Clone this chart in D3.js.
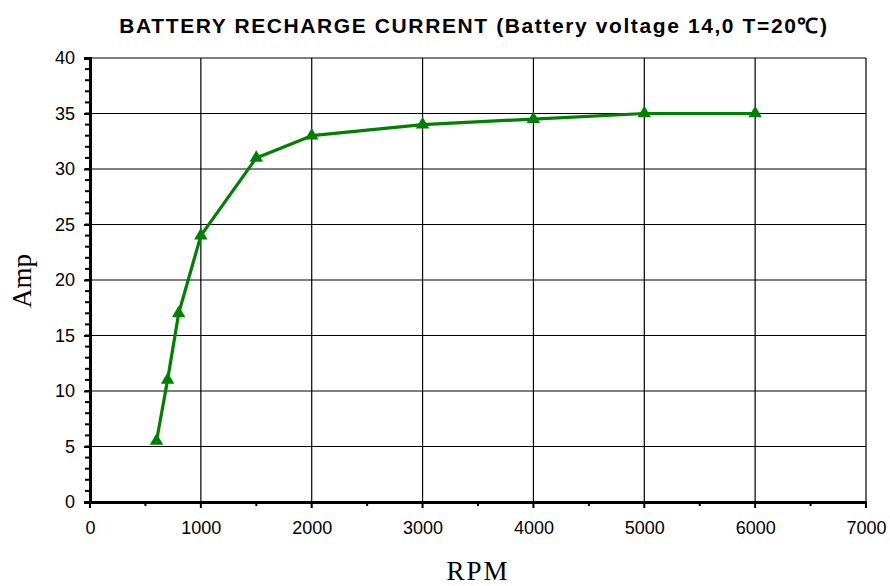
<!DOCTYPE html>
<html>
<head>
<meta charset="utf-8">
<script src="https://cdn.jsdelivr.net/npm/d3@7"></script>
<style>
    body { margin: 0; background: #fff; }
    svg text { font-family: "Liberation Sans", Arial, sans-serif; fill: #000; }
</style>
</head>
<body>
<div id="chart"></div>
<script>
const rpm = [600, 700, 800, 1000, 1500, 2000, 3000, 4000, 5000, 6000];
const amp = [5.5, 11, 17, 24, 31, 33, 34, 34.5, 35, 35];
const xTicks = [0, 1000, 2000, 3000, 4000, 5000, 6000, 7000];
const yTicks = [0, 5, 10, 15, 20, 25, 30, 35, 40];
const titleText = "BATTERY RECHARGE CURRENT (Battery voltage 14,0 T=20\u2103)";

const width = 890, height = 586;
const margin = { top: 58, right: 24, bottom: 84, left: 90 };

const svg = d3.select("#chart").append("svg")
    .attr("width", width)
    .attr("height", height);

const x = d3.scaleLinear().domain([0, 7000]).range([margin.left, width - margin.right]);
const y = d3.scaleLinear().domain([0, 40]).range([height - margin.bottom, margin.top]);

// gridlines
svg.append("g")
    .selectAll("line")
    .data(yTicks.filter(d => d > 0))
    .join("line")
    .attr("x1", x(0)).attr("x2", x(7000))
    .attr("y1", d => y(d)).attr("y2", d => y(d))
    .attr("stroke", "#000").attr("stroke-width", 1.2);

svg.append("g")
    .selectAll("line")
    .data(xTicks.filter(d => d > 0))
    .join("line")
    .attr("x1", d => x(d)).attr("x2", d => x(d))
    .attr("y1", y(0)).attr("y2", y(40))
    .attr("stroke", "#000").attr("stroke-width", 1.2);

// minor ticks
svg.append("g")
    .selectAll("line")
    .data(d3.range(0, 41))
    .join("line")
    .attr("x1", x(0) - 5).attr("x2", x(0))
    .attr("y1", d => y(d)).attr("y2", d => y(d))
    .attr("stroke", "#000").attr("stroke-width", 2);

svg.append("g")
    .selectAll("line")
    .data(d3.range(0, 7001, 500))
    .join("line")
    .attr("x1", d => x(d)).attr("x2", d => x(d))
    .attr("y1", y(0)).attr("y2", d => y(0) + (d % 1000 === 0 ? 6 : 4))
    .attr("stroke", "#000").attr("stroke-width", 2);

// axes
const yAxis = svg.append("g")
    .attr("transform", `translate(${x(0)},0)`)
    .call(d3.axisLeft(y).tickValues(yTicks).tickSize(6).tickPadding(9));
yAxis.select(".domain").attr("stroke-width", 3);
yAxis.selectAll(".tick line").attr("stroke-width", 2);
yAxis.selectAll("text").attr("font-size", 18).attr("font-family", "Liberation Sans, Arial, sans-serif");

const xAxis = svg.append("g")
    .attr("transform", `translate(0,${y(0)})`)
    .call(d3.axisBottom(x).tickValues(xTicks).tickFormat(d3.format("d")).tickSize(0).tickPadding(19));
xAxis.select(".domain").attr("stroke-width", 3);
xAxis.selectAll("text").attr("font-size", 18).attr("font-family", "Liberation Sans, Arial, sans-serif");

// series
const line = d3.line().x((d, i) => x(rpm[i])).y(d => y(d));
svg.append("path")
    .datum(amp)
    .attr("fill", "none")
    .attr("stroke", "#008000")
    .attr("stroke-width", 3.2)
    .attr("stroke-linejoin", "round")
    .attr("d", line);

svg.append("g")
    .selectAll("path")
    .data(amp)
    .join("path")
    .attr("transform", (d, i) => `translate(${x(rpm[i])},${y(d)})`)
    .attr("d", d3.symbol(d3.symbolTriangle, 78))
    .attr("fill", "#008000");

// titles
svg.append("text")
    .attr("x", 474).attr("y", 33)
    .attr("text-anchor", "middle")
    .attr("font-size", 21)
    .attr("font-weight", "bold")
    .attr("letter-spacing", 1.6)
    .text(titleText);

svg.append("text")
    .attr("x", 478).attr("y", 580)
    .attr("text-anchor", "middle")
    .style("font-family", "'Liberation Serif', 'Times New Roman', serif")
    .attr("font-size", 27)
    .attr("letter-spacing", 2)
    .text("RPM");

svg.append("text")
    .attr("transform", "translate(31,281) rotate(-90)")
    .attr("text-anchor", "middle")
    .style("font-family", "'Liberation Serif', 'Times New Roman', serif")
    .attr("font-size", 27)
    .text("Amp");
</script>
</body>
</html>
